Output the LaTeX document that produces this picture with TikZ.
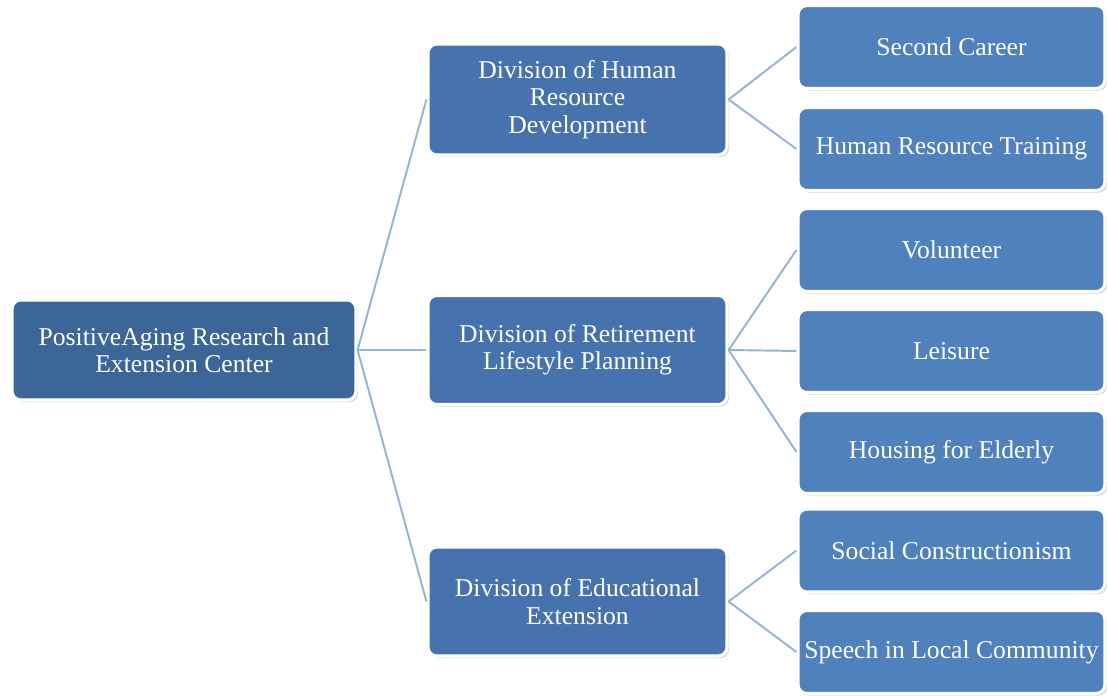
\documentclass[tikz,border=0pt]{standalone}
\usepackage{fontspec}
\setmainfont{Liberation Serif}
\usepackage{tikz}
\usetikzlibrary{positioning,shadows}

\definecolor{rootblue}{HTML}{3C6698}
\definecolor{divblue}{HTML}{4672AD}
\definecolor{leafblue}{HTML}{4F81BD}
\definecolor{linkblue}{HTML}{95B3D7}

\begin{document}
\begin{tikzpicture}[
        box/.style = {draw=white, line width=1.8pt, rounded corners=5pt, text=white,
            align=center, font=\fontsize{14.6}{15.6}\selectfont,
            drop shadow={opacity=0.35, shadow xshift=1.2pt, shadow yshift=-1.2pt}},
        rootbox/.style = {box, fill=rootblue, minimum width=6.88cm, minimum height=2.0cm},
        divbox/.style = {box, fill=divblue, minimum width=5.98cm, minimum height=2.18cm},
        leafbox/.style = {box, fill=leafblue, minimum width=6.14cm, minimum height=1.66cm},
        link/.style = {draw=linkblue, line width=1.1pt}
    ]
    \useasboundingbox (0,0) rectangle (22.14,13.92);

    \node[rootbox] (center) at (3.68,6.92) {PositiveAging Research and\\Extension Center};

    \node[divbox, minimum height=2.22cm] (hrd) at (11.55,11.93) {Division of Human\\Resource\\Development};
    \node[divbox] (retire) at (11.55,6.92) {Division of Retirement\\Lifestyle Planning};
    \node[divbox] (edu) at (11.55,1.89) {Division of Educational\\Extension};

    \node[leafbox] (career) at (19.03,12.98) {Second Career};
    \node[leafbox] (training) at (19.03,10.94) {Human Resource Training};
    \node[leafbox] (volunteer) at (19.03,8.92) {Volunteer};
    \node[leafbox] (leisure) at (19.03,6.90) {Leisure};
    \node[leafbox] (housing) at (19.03,4.88) {Housing for Elderly};
    \node[leafbox] (social) at (19.03,2.91) {Social Constructionism};
    \node[leafbox] (speech) at (19.03,0.88) {Speech in Local Community};

    % Links
    \draw[link] (center.east) -- (hrd.west);
    \draw[link] (center.east) -- (retire.west);
    \draw[link] (center.east) -- (edu.west);
    \draw[link] (hrd.east) -- (career.west);
    \draw[link] (hrd.east) -- (training.west);
    \draw[link] (retire.east) -- (volunteer.west);
    \draw[link] (retire.east) -- (leisure.west);
    \draw[link] (retire.east) -- (housing.west);
    \draw[link] (edu.east) -- (social.west);
    \draw[link] (edu.east) -- (speech.west);

\end{tikzpicture}
\end{document}
